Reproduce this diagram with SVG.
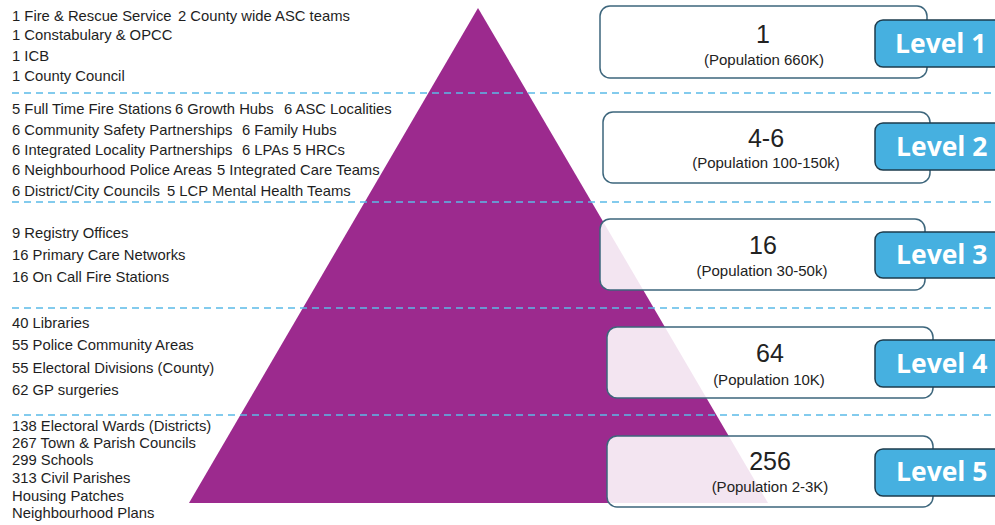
<svg xmlns="http://www.w3.org/2000/svg" width="995" height="525" viewBox="0 0 995 525">
<style>
.t{font-family:"Liberation Sans",Arial,sans-serif;font-size:14.8px;fill:#1e1e1e}
.num{font-family:"Liberation Sans",Arial,sans-serif;font-size:25px;fill:#222;text-anchor:middle}
.pop{font-family:"Liberation Sans",Arial,sans-serif;font-size:15px;fill:#222;text-anchor:middle}
.box{fill:#ffffff;fill-opacity:0.88;stroke:#3d667c;stroke-width:1.5}
.lvl{fill:#46b0e0;stroke:#1d3b4c;stroke-width:1.5}
.lt{font-family:"Open Sans","Liberation Sans",sans-serif;font-weight:bold;font-size:26.5px;fill:#ffffff}
.dash{stroke:#5bbbe8;stroke-width:1.5;stroke-dasharray:7 5;fill:none}
</style>
<rect width="995" height="525" fill="#ffffff"/>
<g id="pyramid">
<polygon points="478,8 189,503 768,503" fill="#9c2a8e"/>
</g>
<g id="separators">
<line class="dash" x1="12" y1="93" x2="995" y2="93"/>
<line class="dash" x1="12" y1="202" x2="995" y2="202"/>
<line class="dash" x1="12" y1="308" x2="995" y2="308"/>
<line class="dash" x1="12" y1="415" x2="995" y2="415"/>
</g>
<g id="list1">
<text class="t" x="12" y="21">1 Fire &amp; Rescue Service</text>
<text class="t" x="178" y="21">2 County wide ASC teams</text>
<text class="t" x="12" y="40">1 Constabulary &amp; OPCC</text>
<text class="t" x="12" y="61">1 ICB</text>
<text class="t" x="12" y="81">1 County Council</text>
</g>
<g id="list2">
<text class="t" x="12" y="114">5 Full Time Fire Stations</text>
<text class="t" x="175" y="114">6 Growth Hubs</text>
<text class="t" x="284" y="114">6 ASC Localities</text>
<text class="t" x="12" y="135">6 Community Safety Partnerships</text>
<text class="t" x="242" y="135">6 Family Hubs</text>
<text class="t" x="12" y="155">6 Integrated Locality Partnerships</text>
<text class="t" x="242" y="155">6 LPAs</text>
<text class="t" x="293" y="155">5 HRCs</text>
<text class="t" x="12" y="175">6 Neighbourhood Police Areas</text>
<text class="t" x="217" y="175">5 Integrated Care Teams</text>
<text class="t" x="12" y="196">6 District/City Councils</text>
<text class="t" x="167" y="196">5 LCP Mental Health Teams</text>
</g>
<g id="list3">
<text class="t" x="12" y="238">9 Registry Offices</text>
<text class="t" x="12" y="260">16 Primary Care Networks</text>
<text class="t" x="12" y="282">16 On Call Fire Stations</text>
</g>
<g id="list4">
<text class="t" x="12" y="328">40 Libraries</text>
<text class="t" x="12" y="350">55 Police Community Areas</text>
<text class="t" x="12" y="373">55 Electoral Divisions (County)</text>
<text class="t" x="12" y="395">62 GP surgeries</text>
</g>
<g id="list5">
<text class="t" x="12" y="431">138 Electoral Wards (Districts)</text>
<text class="t" x="12" y="448">267 Town &amp; Parish Councils</text>
<text class="t" x="12" y="465">299 Schools</text>
<text class="t" x="12" y="483">313 Civil Parishes</text>
<text class="t" x="12" y="501">Housing Patches</text>
<text class="t" x="12" y="518">Neighbourhood Plans</text>
</g>
<g id="box1">
<rect class="box" x="600" y="6" width="327" height="72" rx="10"/>
<text class="num" x="763" y="43">1</text>
<text class="pop" x="764" y="65">(Population 660K)</text>
</g>
<g id="box2">
<rect class="box" x="603" y="112" width="327" height="71" rx="10"/>
<text class="num" x="766" y="147">4-6</text>
<text class="pop" x="766" y="168">(Population 100-150k)</text>
</g>
<g id="box3">
<rect class="box" x="600" y="219" width="325" height="71" rx="10"/>
<text class="num" x="763" y="254">16</text>
<text class="pop" x="762" y="276">(Population 30-50k)</text>
</g>
<g id="box4">
<rect class="box" x="607" y="327" width="326" height="71" rx="10"/>
<text class="num" x="770" y="362">64</text>
<text class="pop" x="769" y="385">(Population 10K)</text>
</g>
<g id="box5">
<rect class="box" x="607" y="436" width="326" height="71" rx="10"/>
<text class="num" x="770" y="470">256</text>
<text class="pop" x="770" y="492">(Population 2-3K)</text>
</g>
<g id="level1">
<rect class="lvl" x="875" y="20" width="135" height="47" rx="8"/>
<text class="lt" x="895" y="53">Level 1</text>
</g>
<g id="level2">
<rect class="lvl" x="875" y="123" width="135" height="47" rx="8"/>
<text class="lt" x="896" y="156">Level 2</text>
</g>
<g id="level3">
<rect class="lvl" x="875" y="232" width="135" height="46" rx="8"/>
<text class="lt" x="896" y="264">Level 3</text>
</g>
<g id="level4">
<rect class="lvl" x="875" y="340" width="135" height="47" rx="8"/>
<text class="lt" x="896" y="373">Level 4</text>
</g>
<g id="level5">
<rect class="lvl" x="875" y="449" width="135" height="47" rx="8"/>
<text class="lt" x="896" y="481">Level 5</text>
</g>
</svg>
